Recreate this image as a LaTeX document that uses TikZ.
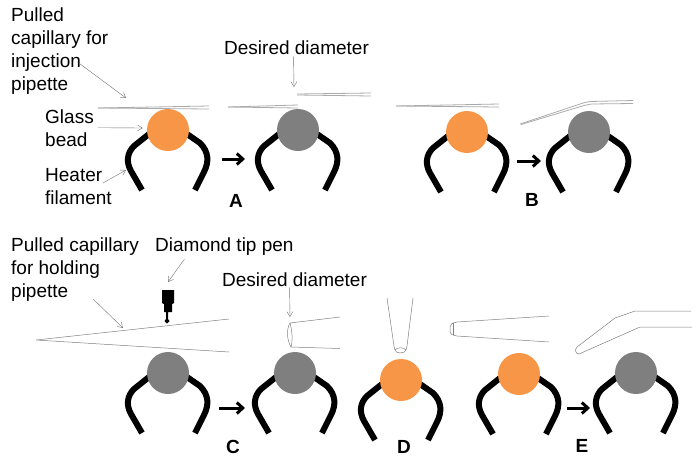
\documentclass[tikz,border=0pt]{standalone}
\usepackage{fontspec}
\setmainfont{Liberation Sans}
\usetikzlibrary{arrows.meta,calc}
\definecolor{beadorange}{RGB}{247,150,70}
\definecolor{beadgray}{RGB}{127,127,127}
\definecolor{glassline}{RGB}{170,170,170}
\tikzset{
    bead/.style={
        circle,fill=#1,draw=none,minimum size=42pt,inner sep=0pt
    },
    wire/.style={
        line width=6pt,draw=black
    },
    lbl/.style={
        align=left,inner sep=0pt,text=black,
        font=\fontsize{19}{23}\selectfont
    },
    panel/.style={
        inner sep=0pt,font=\fontsize{19}{23}\selectfont\bfseries
    },
    leader/.style={
        -{Straight Barb[length=5pt,width=6pt]},line width=.4pt,draw=black!55
    },
    stepto/.style={
        -{Straight Barb[length=6pt,width=11pt,line width=3pt]},line width=3pt,draw=black
    },
    glass/.style={
        line width=.8pt,draw=glassline
    },
    glassthin/.style={
        line width=.5pt,draw=black!50
    }
}
\newcommand{\beadheater}[3]{
\begin{scope}[shift={(#2)}]
\draw[wire](-26,60)--(-37,41)..controls(-42,32)and(-41,23)..(-34,16)--(-19,4);
\draw[wire](27,60)--(36,42)..controls(41,32)and(41,22)..(32,13)--(19,4);
\end{scope}
\node[bead=#3](#1) at (#2){};
}
\begin{document}
\begin{tikzpicture}[x=1pt,y=-1pt]
\useasboundingbox (0,0) rectangle (700,461);

% top row
\beadheater{aone}{168,130}{beadorange}
\beadheater{atwo}{298,130}{beadgray}
\beadheater{bone}{467,132}{beadorange}
\beadheater{btwo}{589,132}{beadgray}

% bottom row
\beadheater{cone}{168,373}{beadgray}
\beadheater{ctwo}{295,373}{beadgray}
\beadheater{done}{401,380}{beadorange}
\beadheater{eone}{519,374}{beadorange}
\beadheater{etwo}{636,373}{beadgray}

% labels
\node[lbl,anchor=base west](inject) at (11,90){Pulled\\capillary for\\injection\\pipette};
\node[lbl,anchor=base west](glassbead) at (45,146){Glass\\bead};
\node[lbl,anchor=base west](heater) at (45,204){Heater\\filament};
\node[lbl,anchor=base west](desiredtop) at (224,54){Desired diameter};
\node[lbl,anchor=base west](holding) at (11,297){Pulled capillary\\for holding\\pipette};
\node[lbl,anchor=base west](pen) at (155,251){Diamond tip pen};
\node[lbl,anchor=base west](desiredlow) at (222,286){Desired diameter};

\node[panel](pa) at (236,201){A};
\node[panel](pb) at (532,200){B};
\node[panel](pc) at (233,447){C};
\node[panel](pd) at (404,447){D};
\node[panel](pe) at (582,446){E};

% capillaries
\draw[glass](98,108)--(209,106);
\draw[glass](98,108)--(209,109);
\draw[glass](228,107)--(298,105);
\draw[glass](228,107)--(298,108);
\draw[glass](297,94)--(371,93);
\draw[glass](297,95)--(371,96);
\draw[glass](396,106)--(499,104);
\draw[glass](396,106)--(499,107);
\draw[glass](520,124)--(583,103)--(590,101.5)--(633,100.5);
\draw[glass](521,124.5)--(584,105.5)--(591,104)--(633,103.5);

\draw[glassthin](229,319)--(36,340)--(229,352);
\draw[glassthin](340,317)--(290,323)..controls(286,330)and(287,340)..(291,347)--(340,348.5);
\draw[glassthin](290,323)..controls(292,330)and(293,340)..(291,347);
\draw[glassthin](387,298)--(394,346)..controls(395,353)and(398,353)..(400,353)
..controls(403,353)and(406,353)..(407,346)--(413,298);
\draw[glassthin](395,350)..controls(397,347)and(404,347)..(406,350);
\draw[glassthin](549,316)--(457,322)..controls(452,323)and(450,324)..(450,327)
--(450,332)..controls(450,334)and(452,335)..(457,336)--(549,342);
\draw[glassthin](453,323)--(453,335);
\draw[glassthin](691,311)--(635,311)--(615,318)--(577,347)
..controls(574,350)and(576,354)..(579,354)--(640,327)--(692,327);

% pen
\fill[black](162,290)--(174,290)--(174,303)--(172,304)--(172,312)--(168,312)--(168,319)
--(169.5,321)--(167,323.5)--(164.5,321)--(166,319)--(166,312)--(164,312)--(164,304)--(162,303)--cycle;

% pointers
\coordinate (injecttip) at (126,98);
\coordinate (wiretip) at (126,170);
\coordinate (dtoptip) at (294,87);
\coordinate (holdtip) at (123,328);
\coordinate (pentip) at (168,282);
\coordinate (dlowtip) at (290,317);
\draw[leader]([shift={(-29,13)}]inject.east)--(injecttip);
\draw[leader]([xshift=4pt]glassbead.east)--([xshift=-4pt,yshift=2pt]aone.west);
\draw[leader]([shift={(-9,-3)}]heater.east)--(wiretip);
\draw[leader]([xshift=-3pt,yshift=-2pt]desiredtop.south)--(dtoptip);
\draw[leader]([shift={(-46,30)}]holding.east)--(holdtip);
\draw[leader]([shift={(-40,4)}]pen.south)--(pentip);
\draw[leader]([xshift=-5pt,yshift=-1pt]desiredlow.south)--(dlowtip);

% steps
\draw[stepto]([shift={(54,29)}]aone.center)--([shift={(-53,29)}]atwo.center);
\draw[stepto]([shift={(50,29)}]bone.center)--([shift={(-48,29)}]btwo.center);
\draw[stepto]([shift={(51,35)}]cone.center)--([shift={(-50,35)}]ctwo.center);
\draw[stepto]([shift={(48,34)}]eone.center)--([shift={(-46,35)}]etwo.center);

\end{tikzpicture}
\end{document}
